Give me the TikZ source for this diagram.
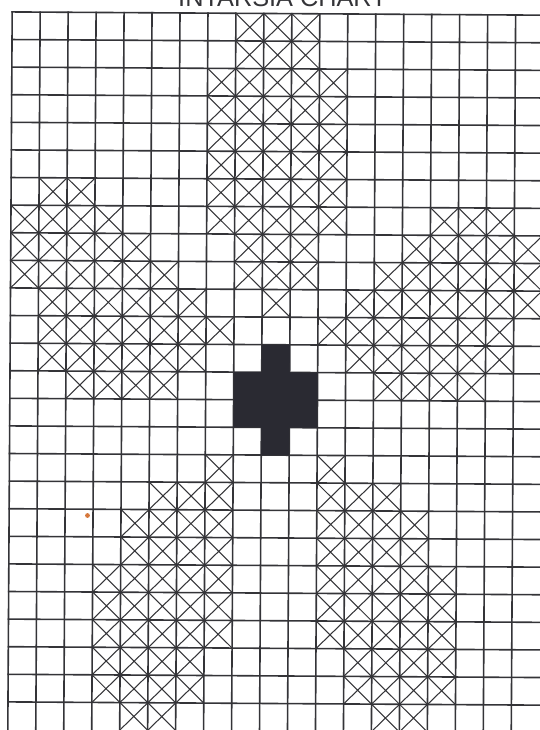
\documentclass[tikz,border=0pt]{standalone}
\usepackage{fontspec}
\newfontfamily\titlefont{Liberation Sans}
\definecolor{ink}{RGB}{52,52,56}
\definecolor{solid}{RGB}{42,42,50}
\definecolor{speck}{RGB}{214,120,60}
\tikzset{
  gridline/.style={draw=ink, line width=1.6pt},
  diag/.style={draw=ink, line width=1.05pt},
  blackcell/.style={fill=solid},
}
\begin{document}
\begin{tikzpicture}[x=1pt,y=-1pt]
\useasboundingbox (0,0) rectangle (539,730);
\fill[white] (0,0) rectangle (539,730);
\node[anchor=base, inner sep=0pt, text=ink, font=\titlefont\fontsize{25.3}{26}\selectfont] (title) at (282.5,6.5) {INTARSIA CHART};
\def\gx{10}\def\gdx{27.97}\def\gy{13.5}\def\gdy{27.6}
\begin{scope}[rotate around={-0.35:(270,370)}]
  % grid
  \foreach \i in {0,...,18} {
    \draw[gridline] ({\gx+\i*\gdx},\gy-0.8) -- ({\gx+\i*\gdx},760);
  }
  \foreach \j in {0,...,25} {
    \draw[gridline] (\gx-0.8,{\gy+\j*\gdy}) -- (570,{\gy+\j*\gdy});
  }
  % crossed cells: row/first column/last column
  \foreach \r/\a/\b in {0/8/10, 1/8/10, 2/7/11, 3/7/11, 4/7/11, 5/7/11,
      6/1/2, 6/7/11,
      7/0/3, 7/7/11, 7/15/17,
      8/0/4, 8/8/10, 8/14/18,
      9/0/5, 9/8/10, 9/13/18,
      10/1/6, 10/9/9, 10/12/18,
      11/1/7, 11/11/17,
      12/1/6, 12/12/17,
      13/2/5, 13/13/16,
      16/7/7, 16/11/11,
      17/5/7, 17/11/13,
      18/4/7, 18/11/14,
      19/4/7, 19/11/14,
      20/3/7, 20/11/15,
      21/3/7, 21/11/15,
      22/3/7, 22/11/15,
      23/3/6, 23/12/15,
      24/3/6, 24/12/15,
      25/4/5, 25/13/14} {
    \foreach \c in {\a,...,\b} {
      \draw[diag] ({\gx+\c*\gdx},{\gy+\r*\gdy}) -- ++(\gdx,\gdy)
                  ({\gx+(\c+1)*\gdx},{\gy+\r*\gdy}) -- ++(-\gdx,\gdy);
    }
  }
  % solid cross
  \fill[blackcell] ({\gx+9*\gdx},{\gy+12*\gdy}) rectangle ({\gx+10*\gdx},{\gy+16*\gdy})
                   ({\gx+8*\gdx},{\gy+13*\gdy}) rectangle ({\gx+11*\gdx},{\gy+15*\gdy});
\end{scope}
\fill[speck] (87.5,515.5) circle (2.4);
\end{tikzpicture}
\end{document}
